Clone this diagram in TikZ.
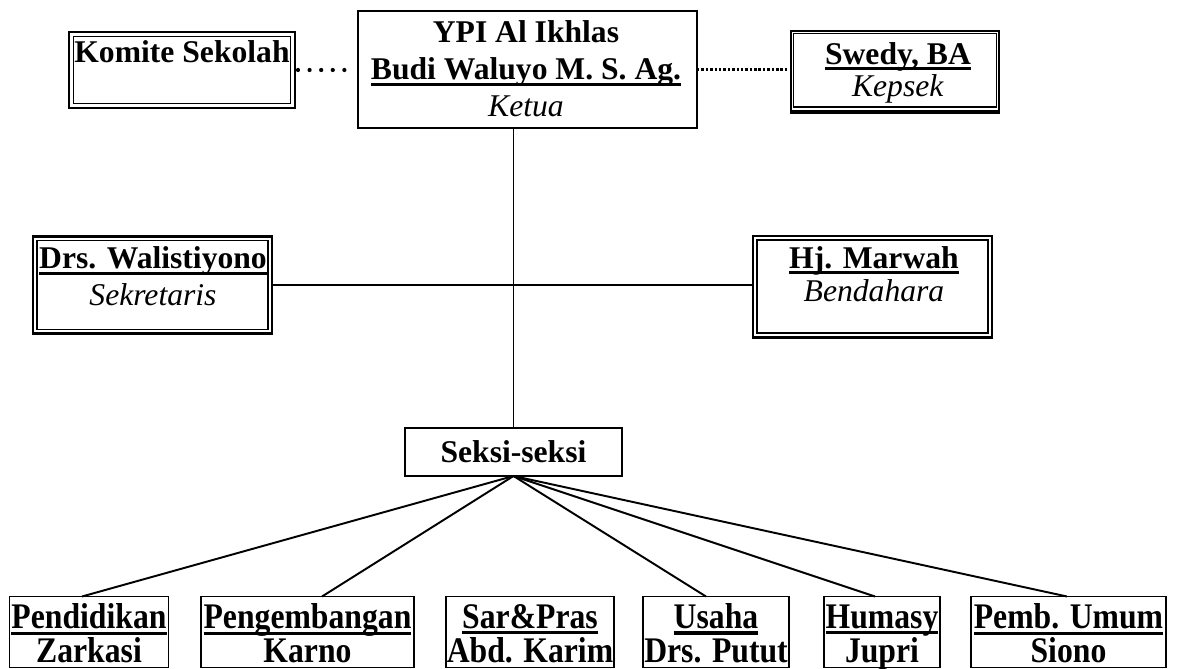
\documentclass[tikz,border=0pt]{standalone}
\usepackage{fontspec}
\setmainfont{Liberation Serif}
\newfontfamily\unitfont[FakeStretch=0.88]{Liberation Serif}
\usetikzlibrary{calc}
\newcommand{\nameline}[1]{\setbox0\hbox{#1}\rlap{\vrule width\wd0 height -1.6pt depth 3.4pt}\box0}

\begin{document}
\begin{tikzpicture}[x=0.02cm,y=-0.02cm,line width=1.1pt,
    every node/.style={font=\fontsize{18}{21}\selectfont},
    boxsize/.style 2 args={minimum width=#1*0.02cm,minimum height=#2*0.02cm}]
  \tikzstyle{frame}=[draw,line width=0.8pt,inner sep=0pt,outer sep=0pt]
  \tikzstyle{txt}=[align=center,inner sep=0pt]
  \tikzstyle{unit}=[frame,line width=0.9pt,minimum height=71*0.02cm]
  \tikzstyle{unittxt}=[txt,font=\unitfont\fontsize{20.5}{19.5}\selectfont\bfseries]
  \tikzstyle{dots}=[line width=2.4pt,line cap=round,dash pattern=on 0pt off 6.6pt]
  \tikzstyle{fine dots}=[line width=1.7pt,dash pattern=on 1.4pt off 1.1pt]
  \useasboundingbox (0,0) rectangle (1178,669);
  % top row
  \node[frame,line width=1.7pt,boxsize={226}{76}] (komite) at (182,70) {};
  \draw[line width=0.9pt] ([shift={(4.5,4.5)}]komite.north west) rectangle ([shift={(-4.5,-4.5)}]komite.south east);
  \node[txt] (komiteT) at (182,52) {\textbf{Komite Sekolah}};
  \node[frame,boxsize={339}{117}] (ypi) at (527.5,69.5) {};
  \node[txt] (ypiT) at (526,69)
        {\textbf{YPI Al Ikhlas}\\\textbf{\nameline{Budi Waluyo M. S. Ag.}}\\\textit{Ketua}};
  \node[frame,line width=0.7pt,boxsize={208}{82}] (swedy) at (895,72) {};
  \draw[line width=0.7pt] ([shift={(2.5,2.5)}]swedy.north west) rectangle ([shift={(-2.5,-6)}]swedy.south east);
  \draw[line width=1.8pt] ([shift={(0,-1.5)}]swedy.south west) -- ([shift={(0,-1.5)}]swedy.south east);
  \node[txt,font=\fontsize{18}{18.6}\selectfont] (swedyT) at (898,73)
        {\textbf{\nameline{Swedy, BA}}\\\textit{Kepsek}};
  % secretary and treasurer
  \node[frame,line width=1.4pt,boxsize={239}{97}] (wal) at (152.5,285) {};
  \draw[line width=0.8pt] ([shift={(4,4)}]wal.north west) rectangle ([shift={(-4,-4)}]wal.south east);
  \node[txt] (walT) at (153,276.5) {\textbf{\nameline{Drs. Walistiyono}}\\\textit{Sekretaris}};
  \node[frame,boxsize={239}{102}] (marwah) at (872.5,287) {};
  \draw[line width=0.8pt] ([shift={(4,4)}]marwah.north west) rectangle ([shift={(-4,-5)}]marwah.south east);
  \draw[line width=1.3pt] ([shift={(0,-1)}]marwah.south west) -- ([shift={(0,-1)}]marwah.south east);
  \node[txt,font=\fontsize{18}{19}\selectfont] (marwahT) at (874,274)
        {\textbf{\nameline{Hj. Marwah}}\\\textit{Bendahara}};
  % sections
  \node[frame,line width=0.9pt,boxsize={217}{48},font=\fontsize{18}{21}\selectfont\bfseries]
        (seksi) at (513.5,452) {Seksi-seksi};
  \node[unit,minimum width=159*0.02cm] (pend) at (89,632) {};
  \node[unittxt] (pendT) at (89,633.5) {\nameline{Pendidikan}\\Zarkasi};
  \node[unit,minimum width=213*0.02cm] (peng) at (307.5,632) {};
  \node[unittxt] (pengT) at (307.5,633.5) {\nameline{Pengembangan}\\Karno};
  \node[unit,minimum width=168*0.02cm] (sar) at (530,632) {};
  \node[unittxt] (sarT) at (530,633.5) {\nameline{Sar\&Pras}\\Abd. Karim};
  \node[unit,minimum width=146*0.02cm] (usaha) at (716,632) {};
  \node[unittxt] (usahaT) at (716,633.5) {\nameline{Usaha}\\Drs. Putut};
  \node[unit,minimum width=116*0.02cm] (humasy) at (882,632) {};
  \node[unittxt] (humasyT) at (882,637.5) {\nameline{Humasy}\\Jupri};
  \node[unit,minimum width=195*0.02cm] (pemb) at (1068.5,632) {};
  \node[unittxt] (pembT) at (1068.5,633.5) {\nameline{Pemb. Umum}\\Siono};
  % lines
  \draw[dots,shorten <=1.7pt,shorten >=6.8pt] (komite.east) -- (komite.east -| ypi.west);
  \draw[fine dots,shorten >=1.7pt] (ypi.east) -- (ypi.east -| swedy.west);
  \draw (ypi.south -| seksi.north) -- (seksi.north);
  \draw (wal.east) -- (wal.east -| marwah.west);
  \draw (seksi.south) -- ([shift={(-7,0)}]pend.north);
  \draw (seksi.south) -- ([shift={(14.5,0)}]peng.north);
  \draw (seksi.south) -- (seksi.south -| sar.north);
  \draw (seksi.south) -- ([shift={(-10,0)}]usaha.north);
  \draw (seksi.south) -- ([shift={(-7,0)}]humasy.north);
  \draw (seksi.south) -- ([shift={(-1.5,0)}]pemb.north);
\end{tikzpicture}
\end{document}
